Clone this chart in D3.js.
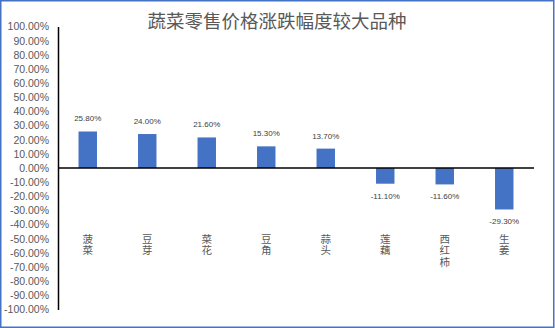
<!DOCTYPE html>
<html>
<head>
<meta charset="utf-8">
<script src="https://cdn.jsdelivr.net/npm/d3@7"></script>
<style>
  html, body { margin: 0; padding: 0; background: #fff; }
  svg { display: block; }
</style>
</head>
<body>
<svg id="chart" width="555" height="328"></svg>
<script>
// Vegetables with the largest retail price changes (%)
const categories = ["菠菜", "豆芽", "菜花", "豆角", "蒜头", "莲藕", "西红柿", "生姜"];
const changes = [25.8, 24.0, 21.6, 15.3, 13.7, -11.1, -11.6, -29.3];
const yTicks = d3.range(-100, 101, 10);
const title = "蔬菜零售价格涨跌幅度较大品种";

const svg = d3.select("#chart");
const plot = { left: 58, right: 534, top: 26.5, bottom: 309.5 };

// percentage formatter using a plain hyphen for negatives
const pct = d3.formatLocale({ decimal: ".", thousands: ",", grouping: [3], currency: ["", ""], minus: "-" })
  .format(".2f");
const fmt = v => pct(v) + "%";

// chart frame
svg.append("rect")
  .attr("x", 0.75).attr("y", 0.75)
  .attr("width", 553).attr("height", 326.5)
  .attr("fill", "#fff")
  .attr("stroke", "#4472C4").attr("stroke-width", 1.5);

// title
svg.append("text")
  .attr("x", 277).attr("y", 28)
  .attr("text-anchor", "middle")
  .attr("font-family", "'Noto Sans CJK SC', sans-serif")
  .attr("font-size", 18.5)
  .attr("fill", "#595959")
  .text(title);

const x = d3.scaleBand()
  .domain(categories)
  .range([plot.left, plot.right])
  .paddingInner(0.69)
  .paddingOuter(0.345);

const y = d3.scaleLinear()
  .domain([-100, 100])
  .range([plot.bottom, plot.top]);

// y axis with percentage labels
const yAxis = d3.axisLeft(y)
  .tickValues(yTicks)
  .tickSize(0)
  .tickPadding(9)
  .tickFormat(fmt);

const yg = svg.append("g")
  .attr("transform", `translate(${plot.left},0)`)
  .call(yAxis);
yg.select(".domain").attr("stroke", "#000").attr("stroke-width", 1.5);
yg.selectAll("text")
  .attr("font-family", "'Liberation Sans', Arial, sans-serif")
  .attr("font-size", 10.5)
  .attr("fill", "#595959");

// bars
svg.append("g").selectAll("rect")
  .data(categories)
  .join("rect")
  .attr("x", d => x(d))
  .attr("width", x.bandwidth())
  .attr("y", (d, i) => y(Math.max(0, changes[i])))
  .attr("height", (d, i) => Math.abs(y(changes[i]) - y(0)))
  .attr("fill", "#4472C4");

// zero line
svg.append("line")
  .attr("x1", plot.left).attr("x2", plot.right)
  .attr("y1", y(0)).attr("y2", y(0))
  .attr("stroke", "#000").attr("stroke-width", 1.5);

// value labels
svg.append("g").selectAll("text")
  .data(categories)
  .join("text")
  .attr("x", d => x(d) + x.bandwidth() / 2)
  .attr("y", (d, i) => changes[i] >= 0 ? y(changes[i]) - 10 : y(changes[i]) + 15)
  .attr("text-anchor", "middle")
  .attr("font-family", "'Liberation Sans', Arial, sans-serif")
  .attr("font-size", 8)
  .attr("fill", "#404040")
  .text((d, i) => fmt(changes[i]));

// category labels, written vertically (one character per line)
svg.append("g").selectAll("text")
  .data(categories)
  .join("text")
  .attr("x", d => x(d) + x.bandwidth() / 2)
  .attr("y", 233.5)
  .style("writing-mode", "vertical-rl")
  .style("text-orientation", "upright")
  .style("letter-spacing", "1px")
  .attr("font-family", "'Noto Sans CJK SC', sans-serif")
  .attr("font-size", 10.5)
  .attr("fill", "#595959")
  .text(d => d);
</script>
</body>
</html>
